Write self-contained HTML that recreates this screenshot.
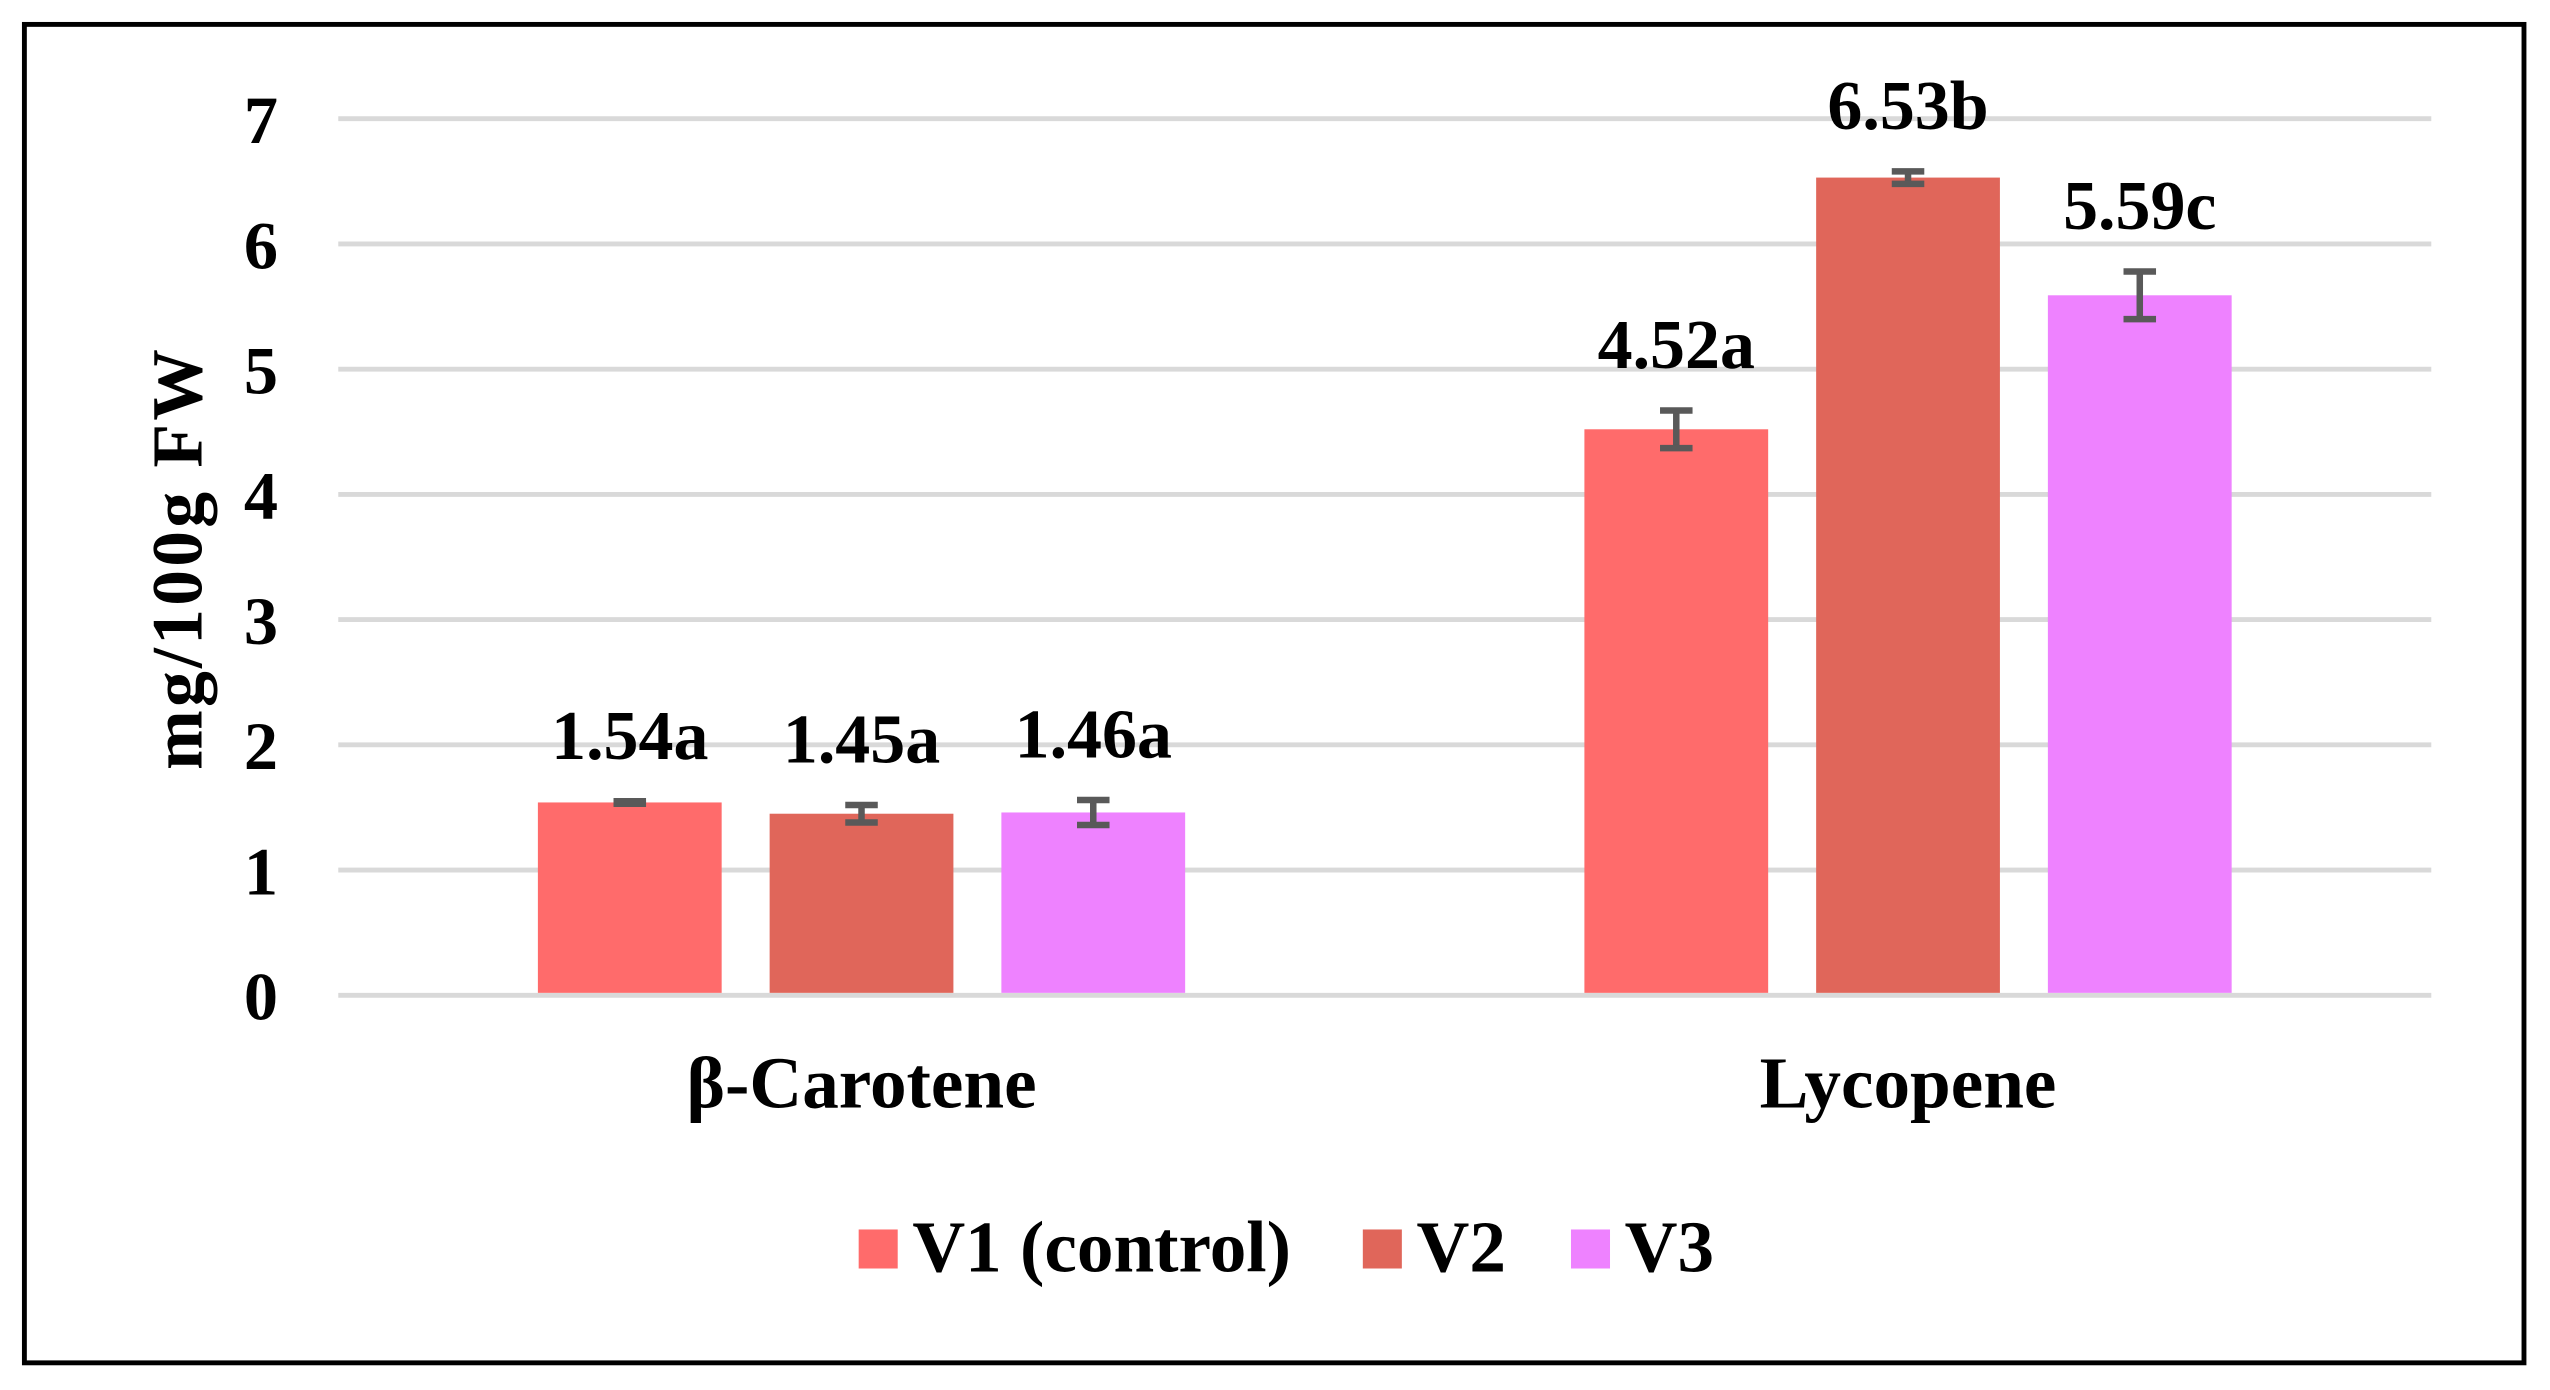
<!DOCTYPE html>
<html><head><meta charset="utf-8"><style>
html,body{margin:0;padding:0;background:#fff;}
svg{display:block;}
text{font-family:"Liberation Serif",serif;font-weight:bold;fill:#000;}
</style></head><body>
<svg id="chart" width="2550" height="1390" viewBox="0 0 1568 854.7" xmlns="http://www.w3.org/2000/svg">
<rect x="15" y="15" width="1537" height="823" fill="#fff" stroke="#000" stroke-width="3"/>
<g id="grid"></g><g id="bars"></g>
<text transform="translate(124,343) rotate(-90)" text-anchor="middle" font-size="44" letter-spacing="2">mg/100g FW</text>
<g id="legend"></g>
</svg>
<script>
const categories = ["β-Carotene", "Lycopene"];
const seriesNames = ["V1 (control)", "V2", "V3"];
const seriesColors = ["#FF6B6B", "#E0665A", "#EE82FF"];
const v1 = [1.54, 4.52];
const v2 = [1.45, 6.53];
const v3 = [1.46, 5.59];
const e1 = [0.01, 0.15];
const e2 = [0.07, 0.05];
const e3 = [0.10, 0.19];
const labels1 = ["1.54a", "4.52a"];
const labels2 = ["1.45a", "6.53b"];
const labels3 = ["1.46a", "5.59c"];
const yTicks = [0,1,2,3,4,5,6,7];

const NS="http://www.w3.org/2000/svg";
const X0=208, X1=1495, Y0=612, Y7=73;
const y = v => Y0 - (v/7)*(Y0-Y7);
const catW=(X1-X0)/categories.length;
const cx = i => X0 + catW*(i+0.5);
const barW=113, step=142.5;
function mk(tag, attrs, parent){const e=document.createElementNS(NS,tag);for(const k in attrs)e.setAttribute(k,attrs[k]);parent.appendChild(e);return e;}
const grid=document.getElementById('grid'), bars=document.getElementById('bars'), leg=document.getElementById('legend');
yTicks.forEach(t=>{
  const l=mk('line',{x1:X0,x2:X1,y1:y(t),y2:y(t),stroke:'#d9d9d9','stroke-width':3},grid);
  
  
  const tx=mk('text',{x:171,y:y(t)+15,'text-anchor':'end','font-size':42},grid);
  tx.textContent=t;
  
  
});
const vals=[v1,v2,v3], errs=[e1,e2,e3], labs=[labels1,labels2,labels3];
categories.forEach((c,i)=>{
  const ct=mk('text',{x:cx(i),y:681,'text-anchor':'middle','font-size':45},bars);
  ct.textContent=c;
  
  
  vals.forEach((s,j)=>{
    const bx=cx(i)+(j-1)*step;
    const v=s[i], e=errs[j][i];
    const r=mk('rect',{x:bx-barW/2,y:y(v),width:barW,height:Y0-y(v)-1.5,fill:seriesColors[j]},bars);
    
    
    const g=mk('g',{stroke:'#595959','stroke-width':4},bars);
    
    
    mk('line',{x1:bx,x2:bx,y1:y(v+e),y2:y(v-e)},g);
    mk('line',{x1:bx-10,x2:bx+10,y1:y(v+e),y2:y(v+e)},g);
    mk('line',{x1:bx-10,x2:bx+10,y1:y(v-e),y2:y(v-e)},g);
    const lt=mk('text',{x:bx,y:y(v+e)-26,'text-anchor':'middle','font-size':43},bars);
    lt.textContent=labs[j][i];
    
    
  });
});
const legX=[528,838,966];
seriesNames.forEach((n,j)=>{
  const r=mk('rect',{x:legX[j],y:756,width:24,height:24,fill:seriesColors[j]},leg);
  
  
  const t=mk('text',{x:legX[j]+33,y:782,'font-size':45},leg);
  t.textContent=n;
  
  
});
</script>
</body></html>
